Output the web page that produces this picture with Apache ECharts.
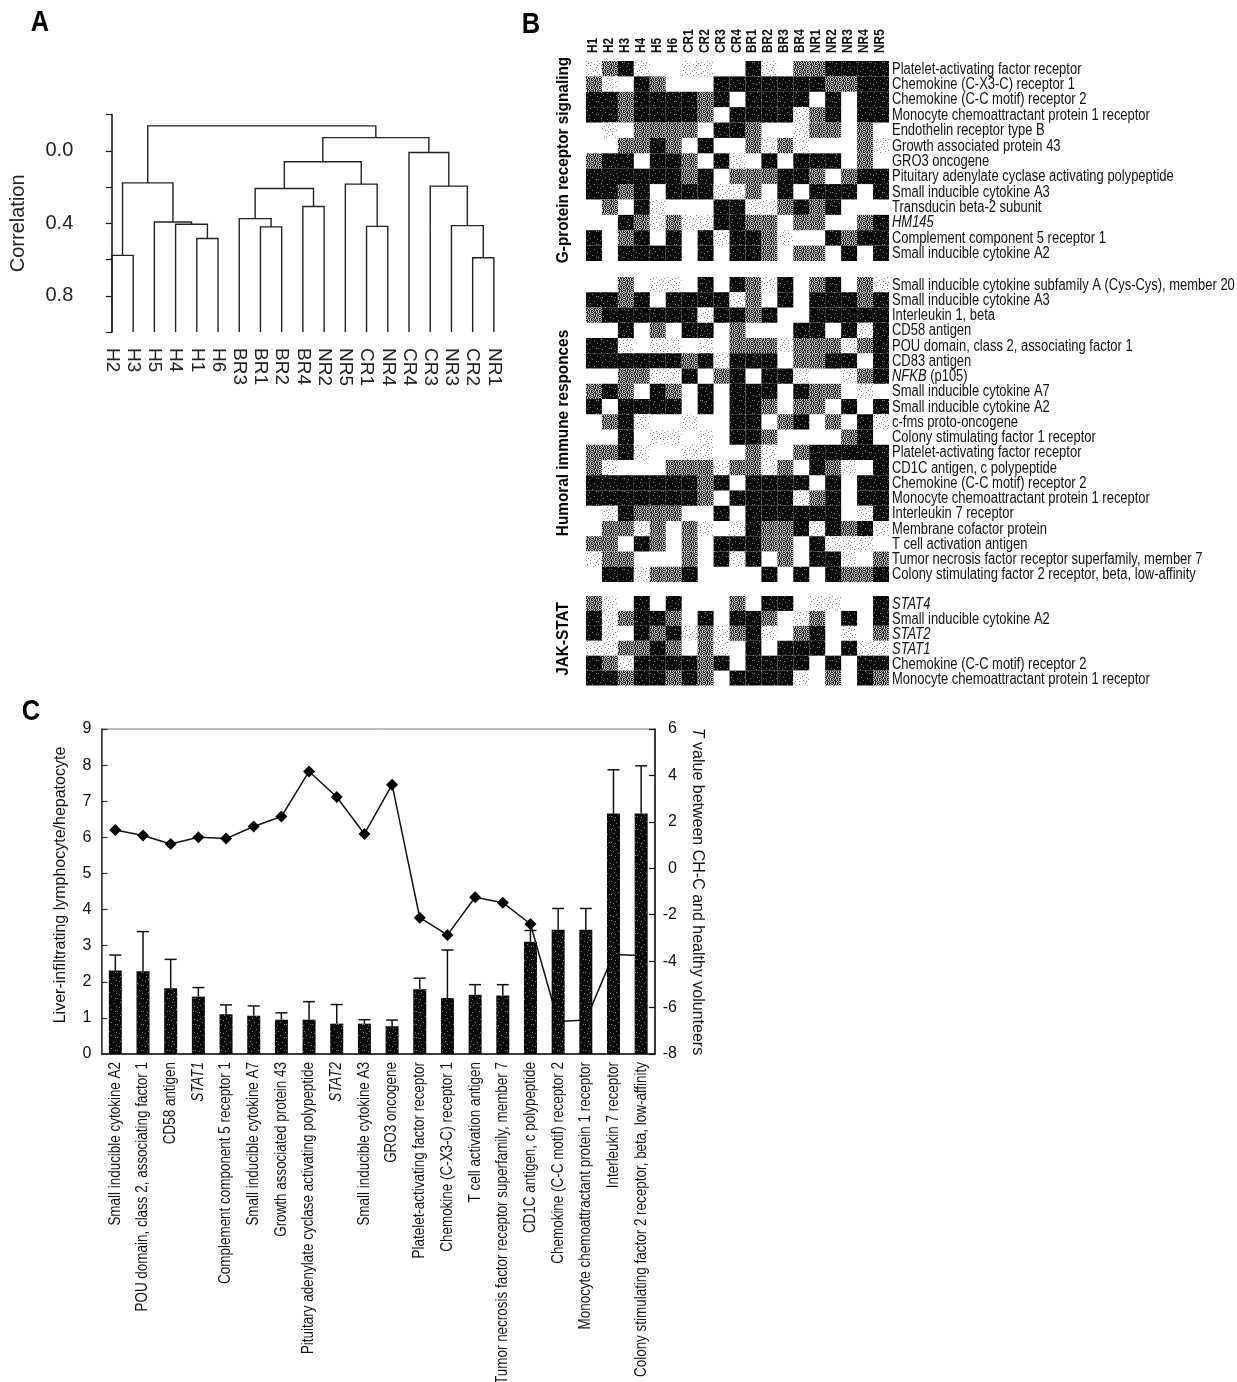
<!DOCTYPE html>
<html><head><meta charset="utf-8">
<script src="https://cdn.jsdelivr.net/npm/echarts@6/dist/echarts.min.js"></script>
<style>html,body{margin:0;padding:0;background:#fff}#c{width:1237px;height:1382px}</style>
</head><body><div id="c"></div>
<script>
// ---------- Panel A: dendrogram ----------
const leaves = ['H2','H3','H5','H4','H1','H6','BR3','BR1','BR2','BR4','NR2','NR5','CR1','NR4','CR4','CR3','NR3','CR2','NR1'];
const mergeA = ['H2','H1','H4','H5','m0','BR1','BR3','BR4','m6','CR1','NR5','m8','CR2','NR3','CR3','CR4','m11','m4'];
const mergeB = ['H3','H6','m1','m2','m3','BR2','m5','NR2','m7','NR4','m9','m10','NR1','m12','m13','m14','m15','m16'];
const mergeHeight = [0.577,0.484,0.405,0.393,0.177,0.42,0.374,0.307,0.208,0.417,0.184,0.06,0.59,0.413,0.195,0.009,-0.073,-0.138];
const corrTickLabels = ['0.0','0.4','0.8'];

// ---------- Panel B: heatmaps (0 white, 1 speckled, 2 gray, 3 black) ----------
const samples = ['H1','H2','H3','H4','H5','H6','CR1','CR2','CR3','CR4','BR1','BR2','BR3','BR4','NR1','NR2','NR3','NR4','NR5'];
const gpcrGenes = ['Platelet-activating factor receptor','Chemokine (C-X3-C) receptor 1','Chemokine (C-C motif) receptor 2','Monocyte chemoattractant protein 1 receptor','Endothelin receptor type B','Growth associated protein 43','GRO3 oncogene','Pituitary adenylate cyclase activating polypeptide','Small inducible cytokine A3','Transducin beta-2 subunit','{i|HM145}','Complement component 5 receptor 1','Small inducible cytokine A2'];
const gpcrLevels = [
[1,2,3,1,0,0,1,1,0,0,3,1,0,2,2,3,3,3,3],
[2,1,0,3,2,0,0,0,3,3,3,3,3,3,3,2,2,3,3],
[3,3,2,3,3,3,3,2,3,0,3,3,3,3,0,3,0,3,3],
[3,3,2,3,3,3,3,2,0,3,3,3,3,1,2,3,0,3,3],
[0,1,0,2,2,2,2,0,3,3,2,0,0,1,2,2,0,2,0],
[0,0,2,2,3,2,0,3,0,0,2,1,2,1,0,0,0,2,1],
[2,3,3,0,3,3,2,0,3,1,0,3,0,3,3,3,0,2,0],
[3,3,3,3,3,3,2,3,0,2,2,2,3,3,2,0,2,3,3],
[3,3,2,3,0,3,3,3,1,1,2,0,3,0,3,3,3,0,3],
[0,2,0,3,1,0,0,0,3,3,1,1,2,3,2,3,0,0,0],
[0,0,3,2,1,2,1,1,3,3,2,2,0,2,2,0,0,2,3],
[3,0,2,3,0,3,0,3,1,3,3,2,1,0,0,3,2,3,3],
[3,0,3,3,3,3,0,3,0,3,3,2,0,2,2,0,3,0,3]];
const humoralGenes = ['Small inducible cytokine subfamily A (Cys-Cys), member 20','Small inducible cytokine A3','Interleukin 1, beta','CD58 antigen','POU domain, class 2, associating factor 1','CD83 antigen','{i|NFKB} (p105)','Small inducible cytokine A7','Small inducible cytokine A2','c-fms proto-oncogene','Colony stimulating factor 1 receptor','Platelet-activating factor receptor','CD1C antigen, c polypeptide','Chemokine (C-C motif) receptor 2','Monocyte chemoattractant protein 1 receptor','Interleukin 7 receptor','Membrane cofactor protein','T cell activation antigen','Tumor necrosis factor receptor superfamily, member 7','Colony stimulating factor 2 receptor, beta, low-affinity'];
const humoralLevels = [
[0,0,2,0,1,1,0,3,0,3,2,1,3,0,2,3,0,2,1],
[3,3,2,3,0,3,3,3,3,1,2,0,3,0,3,3,3,2,3],
[2,3,3,3,3,3,3,1,3,3,2,3,0,0,3,3,3,3,3],
[0,0,3,0,2,0,3,3,0,2,0,0,0,3,3,0,3,1,3],
[3,3,1,0,1,1,0,1,0,2,2,2,1,2,2,2,1,2,3],
[3,3,3,3,3,3,2,3,1,3,3,3,0,2,2,3,3,0,3],
[0,0,2,2,1,1,3,0,2,3,0,3,3,1,0,0,1,2,3],
[2,3,2,0,3,2,0,3,0,3,3,3,0,3,2,2,0,1,0],
[3,0,3,3,3,3,0,3,0,3,3,2,0,2,2,0,3,0,3],
[0,2,3,1,0,0,1,0,0,3,3,0,2,3,0,2,0,3,1],
[0,0,3,0,1,1,0,1,0,3,3,2,0,0,0,0,2,3,0],
[2,2,3,1,0,0,1,1,0,0,2,1,0,2,3,3,3,3,3],
[2,1,0,0,0,2,2,2,1,2,2,1,2,0,3,2,1,0,3],
[3,3,3,3,3,3,3,2,3,0,3,3,3,3,0,3,0,3,3],
[3,3,3,3,3,3,3,2,0,3,3,3,3,1,2,3,0,3,3],
[0,1,3,2,2,2,0,0,3,0,3,3,3,3,3,3,0,1,3],
[0,2,2,1,2,0,2,1,0,1,3,2,2,3,1,3,2,3,1],
[2,2,0,3,2,0,2,0,3,3,3,2,2,0,3,1,1,1,0],
[1,2,2,0,0,0,2,0,3,1,3,0,2,0,3,3,1,0,2],
[0,3,3,1,2,2,3,0,0,0,0,3,0,3,0,3,2,2,3]];
const jakGenes = ['{i|STAT4}','Small inducible cytokine A2','{i|STAT2}','{i|STAT1}','Chemokine (C-C motif) receptor 2','Monocyte chemoattractant protein 1 receptor'];
const jakLevels = [
[2,1,0,3,0,3,0,0,0,2,0,3,3,0,1,1,0,0,3],
[3,1,2,3,3,2,0,3,0,3,3,2,0,1,2,0,3,0,3],
[3,1,0,3,2,3,1,2,1,2,3,1,0,2,3,0,1,0,2],
[1,1,2,2,3,2,0,2,1,0,3,0,3,3,3,0,3,1,1],
[3,2,1,3,3,3,3,2,3,0,3,3,3,3,0,3,0,3,3],
[3,3,2,3,3,2,3,2,0,3,3,3,3,1,0,2,0,3,2]];

// ---------- Panel C: bars, error tops, T values ----------
const genesC = ['Small inducible cytokine A2','POU domain, class 2, associating factor 1','CD58 antigen','{i|STAT1}','Complement component 5 receptor 1','Small inducible cytokine A7','Growth associated protein 43','Pituitary adenylate cyclase activating polypeptide','{i|STAT2}','Small inducible cytokine A3','GRO3 oncogene','Platelet-activating factor receptor','Chemokine (C-X3-C) receptor 1','T cell activation antigen','Tumor necrosis factor receptor superfamily, member 7','CD1C antigen, c polypeptide','Chemokine (C-C motif) receptor 2','Monocyte chemoattractant protein 1 receptor','Interleukin 7 receptor','Colony stimulating factor 2 receptor, beta, low-affinity'];
const ratio = [2.31,2.29,1.82,1.59,1.10,1.06,0.95,0.95,0.84,0.84,0.77,1.79,1.55,1.64,1.62,3.11,3.44,3.44,6.66,6.66];
const errorTop = [2.74,3.39,2.62,1.84,1.36,1.33,1.14,1.45,1.37,0.95,0.94,2.10,2.88,1.92,1.92,3.42,4.03,4.03,7.87,7.98];
const tValue = [1.65,1.41,1.05,1.34,1.28,1.80,2.23,4.17,3.07,1.48,3.60,-2.13,-2.87,-1.25,-1.48,-2.40,-6.60,-6.54,-3.71,-3.76];

const SANS = '"Liberation Sans",Arial,sans-serif';
const INK = '#111';

// dendrogram segments from the merge lists
const nodeCentre = {}, nodeHeight = {};
leaves.forEach((l, i) => { nodeCentre[l] = i; nodeHeight[l] = 1.0; });
const dendroData = mergeA.map((a, i) => {
  const b = mergeB[i], h = mergeHeight[i];
  const row = [nodeCentre[a], nodeHeight[a], nodeCentre[b], nodeHeight[b], h];
  nodeCentre['m' + i] = (nodeCentre[a] + nodeCentre[b]) / 2;
  nodeHeight['m' + i] = h;
  return row;
});

// dither tiles for the scanned look of the heat cells
function tile(rows, ink, paper) {
  const c = document.createElement('canvas');
  c.width = rows[0].length; c.height = rows.length;
  const g = c.getContext('2d');
  g.fillStyle = paper; g.fillRect(0, 0, c.width, c.height);
  g.fillStyle = ink;
  rows.forEach((r, y) => [...r].forEach((ch, x) => { if (ch === '#') g.fillRect(x, y, 1, 1); }));
  return { image: c, repeat: 'repeat' };
}
const lightTile = tile(['...........','..#........','.......#...','....#......','.#.........','..........#','...#.......','........#..','.....#.....','#..........','...#...#...'], '#8a8a8a', '#fff');
const grayTile = tile(['#.##.#.#','.#.##.#.','##.#.#.#','.#.#.##.','#.##.#.#','.##.#.#.','#.#.##.#','.#.#.#.#'], '#2a2a2a', '#c4c4c4');
const darkTile = tile(['.............','...#.........','.........#...','.............','.....#.......','............#','..#..........','.............','.......#.....','.............','#..........#.','....#........','.............'], '#777', '#080808');
const levelFill = [null, lightTile, grayTile, darkTile];

function heatItem(levels) {
  const out = [];
  levels.forEach((row, y) => row.forEach((v, x) => { if (v > 0) out.push([x, y, v]); }));
  return out;
}
function renderCell(params, api) {
  const p = api.coord([api.value(0), api.value(1)]);
  const s = api.size([1, 1]);
  return { type: 'rect',
    shape: { x: p[0] - s[0] / 2, y: p[1] - s[1] / 2, width: s[0], height: s[1] },
    style: { fill: levelFill[api.value(2)] } };
}
const RICH = { i: { fontStyle: 'italic', fontFamily: SANS, fontSize: 16, fill: '#111' } };
const ROW_SQUEEZE = 0.81, COL_SQUEEZE = 0.84;

const HX = 586, HW = 303;
const groups = [
  { genes: gpcrGenes, levels: gpcrLevels, top: 61, h: 200, cols: true, shift: 0.5 },
  { genes: humoralGenes, levels: humoralLevels, top: 277, h: 305, shift: 0.5 },
  { genes: jakGenes, levels: jakLevels, top: 596, h: 89.5, shift: 1.5 }
];

const grid = [
  { left: 90.7, top: 114.6, width: 424.4, height: 217.4, outerBoundsMode: 'none' },
  { left: 101.5, top: 729, width: 553.5, height: 325, show: true, borderColor: '#777', borderWidth: 1, outerBoundsMode: 'none' }
];
const xAxis = [
  { gridIndex: 0, type: 'value', min: -1, max: 19, interval: 1,
    axisLine: { show: false }, axisTick: { show: false }, splitLine: { show: false },
    axisLabel: { rotate: -90, margin: 16, fontFamily: SANS, fontSize: 19, color: '#222',
      showMinLabel: false, showMaxLabel: false,
      formatter: v => leaves[v] || '' } },
  { gridIndex: 1, type: 'category', data: genesC, boundaryGap: true,
    axisLine: { lineStyle: { color: INK, width: 1.5 } },
    axisTick: { inside: true, length: 7, lineStyle: { color: INK, width: 1.2 } },
    axisLabel: { show: false } }
];
const yAxis = [
  { gridIndex: 0, type: 'value', inverse: true, min: -0.2, max: 1, interval: 0.2, offset: -4.6,
    axisLine: { show: true, lineStyle: { color: INK, width: 1.5 } },
    axisTick: { show: true, length: 6, lineStyle: { color: INK, width: 1.2 } },
    splitLine: { show: false },
    axisLabel: { margin: 22, fontFamily: SANS, fontSize: 20, color: '#222',
      formatter: v => { const t = v.toFixed(1); return corrTickLabels.includes(t) ? t : ''; } },
    name: 'Correlation', nameLocation: 'middle', nameGap: 67, nameRotate: 90,
    nameTextStyle: { fontFamily: SANS, fontSize: 20, color: '#222' } },
  { gridIndex: 1, type: 'value', min: 0, max: 9, interval: 1, position: 'left',
    axisLine: { show: true, lineStyle: { color: '#333', width: 1.5 } },
    axisTick: { show: true, inside: true, length: 6, lineStyle: { color: '#333', width: 1.2 } },
    splitLine: { show: false },
    axisLabel: { margin: 10, padding: [8, 0, 0, 0], fontFamily: SANS, fontSize: 16, color: '#111' },
    name: 'Liver-infiltrating lymphocyte/hepatocyte', nameLocation: 'middle', nameGap: 33, nameRotate: 90,
    nameTextStyle: { fontFamily: SANS, fontSize: 16, color: '#111', padding: [0, 0, 0, 13] } },
  { gridIndex: 1, type: 'value', min: -8, max: 6, interval: 2, position: 'right',
    axisLine: { show: true, lineStyle: { color: INK, width: 1.5 } },
    axisTick: { show: true, inside: true, length: 6, lineStyle: { color: INK, width: 1.2 } },
    splitLine: { show: false },
    axisLabel: { margin: 22, align: 'right', padding: [8, 0, 0, 0], fontFamily: SANS, fontSize: 16, color: '#111' },
    name: '{i|T} value between CH-C and healthy volunteers', nameLocation: 'middle', nameGap: 34, nameRotate: -90,
    nameTextStyle: { fontFamily: SANS, fontSize: 16, color: '#111',
      rich: { i: { fontStyle: 'italic', fontFamily: SANS, fontSize: 16, color: '#111' } } } }
];
const series = [
  { type: 'custom', name: 'Dendrogram', xAxisIndex: 0, yAxisIndex: 0, silent: true, data: dendroData,
    encode: { x: [0, 2], y: [1, 3, 4] },
    renderItem(params, api) {
      const a = api.coord([api.value(0), api.value(1)]);
      const b = api.coord([api.value(0), api.value(4)]);
      const c = api.coord([api.value(2), api.value(4)]);
      const d = api.coord([api.value(2), api.value(3)]);
      return { type: 'polyline', shape: { points: [a, b, c, d] }, style: { stroke: '#222', lineWidth: 1.4, fill: null } };
    } },
  { type: 'line', name: 'T value', xAxisIndex: 1, yAxisIndex: 2, data: tValue, z: 2,
    symbol: 'diamond', symbolSize: 12, showSymbol: true,
    lineStyle: { color: INK, width: 1.5 }, itemStyle: { color: '#000' } },
  { type: 'bar', name: 'Ratio', xAxisIndex: 1, yAxisIndex: 1, data: ratio, barWidth: 13, z: 3,
    itemStyle: { color: darkTile } },
  { type: 'custom', name: 'Error', xAxisIndex: 1, yAxisIndex: 1, z: 4, silent: true,
    data: ratio.map((v, i) => [i, v, errorTop[i]]), encode: { x: 0, y: [1, 2] },
    renderItem(params, api) {
      const lo = api.coord([api.value(0), api.value(1)]);
      const hi = api.coord([api.value(0), api.value(2)]);
      return { type: 'group', children: [
        { type: 'line', shape: { x1: lo[0], y1: lo[1], x2: hi[0], y2: hi[1] }, style: { stroke: INK, lineWidth: 1.5 } },
        { type: 'line', shape: { x1: hi[0] - 6, y1: hi[1], x2: hi[0] + 6, y2: hi[1] }, style: { stroke: INK, lineWidth: 1.5 } }
      ] };
    } },
  { type: 'custom', name: 'Gene labels', xAxisIndex: 1, yAxisIndex: 1, z: 5, silent: true,
    data: genesC.map((g, i) => [i, 0]), encode: { x: 0, y: 1 },
    renderItem(params, api) {
      const p = api.coord([api.value(0), 0]);
      return { type: 'text', x: p[0], y: p[1] + 8, rotation: Math.PI / 2, scaleX: COL_SQUEEZE,
        style: { text: genesC[params.dataIndex], rich: RICH, fontFamily: SANS, fontSize: 16, fill: '#111', textAlign: 'right', textVerticalAlign: 'middle' } };
    } }
];

groups.forEach((g, k) => {
  const gi = grid.length, xi = xAxis.length, yi = yAxis.length;
  grid.push({ left: HX, top: g.top, width: HW, height: g.h, outerBoundsMode: 'none' });
  xAxis.push({ gridIndex: gi, type: 'category', data: samples, position: 'top',
    axisLine: { show: false }, axisTick: { show: false }, axisLabel: { show: false } });
  yAxis.push({ gridIndex: gi, type: 'category', data: g.genes, inverse: true, position: 'right',
    axisLine: { show: false }, axisTick: { show: false }, axisLabel: { show: false } });
  series.push({ type: 'custom', name: 'Heat ' + k, xAxisIndex: xi, yAxisIndex: yi, silent: true,
    data: heatItem(g.levels), encode: { x: 0, y: 1 }, renderItem: renderCell });
  series.push({ type: 'custom', name: 'Rows ' + k, xAxisIndex: xi, yAxisIndex: yi, silent: true,
    data: g.genes.map((n, i) => [samples.length - 1, i]), encode: { x: 0, y: 1 },
    renderItem(params, api) {
      const p = api.coord([api.value(0), api.value(1)]);
      const s = api.size([1, 1]);
      return { type: 'text', x: p[0] + s[0] / 2 + 3, y: p[1] + g.shift, scaleX: ROW_SQUEEZE,
        style: { text: g.genes[params.dataIndex], rich: RICH, fontFamily: SANS, fontSize: 16, fill: '#111', textAlign: 'left', textVerticalAlign: 'middle' } };
    } });
  if (g.cols) series.push({ type: 'custom', name: 'Columns', xAxisIndex: xi, yAxisIndex: yi, silent: true,
    data: samples.map((n, i) => [i, 0]), encode: { x: 0, y: 1 },
    renderItem(params, api) {
      const p = api.coord([api.value(0), 0]);
      const s = api.size([1, 1]);
      return { type: 'text', x: p[0] - 1, y: p[1] - s[1] / 2 - 8, rotation: Math.PI / 2, scaleX: 0.82,
        style: { text: samples[params.dataIndex], fontFamily: SANS, fontWeight: 'bold', fontSize: 14.5, fill: '#111', textAlign: 'left', textVerticalAlign: 'middle' } };
    } });
});

const panelText = (t, x, y) => ({ type: 'text', x, y, scaleX: 0.85, style: { text: t, fontFamily: SANS, fontWeight: 'bold', fontSize: 30, fill: '#000', textAlign: 'center', textVerticalAlign: 'middle' } });
const groupText = (t, x, y) => ({ type: 'text', x, y, rotation: Math.PI / 2, scaleX: 0.93, style: { text: t, fontFamily: SANS, fontWeight: 'bold', fontSize: 16.5, fill: '#000', textAlign: 'center', textVerticalAlign: 'middle' } });

const chart = echarts.init(document.getElementById('c'), null, { renderer: 'canvas' });
chart.setOption({
  animation: false, backgroundColor: '#fff', tooltip: { show: false },
  grid, xAxis, yAxis, series,
  graphic: [
    panelText('A', 40, 23), panelText('B', 531, 25), panelText('C', 31, 712),
    groupText('G-protein receptor signaling', 563, 160),
    groupText('Humoral immune responces', 563, 433),
    groupText('JAK-STAT', 563, 639)
  ]
});
</script></body></html>
